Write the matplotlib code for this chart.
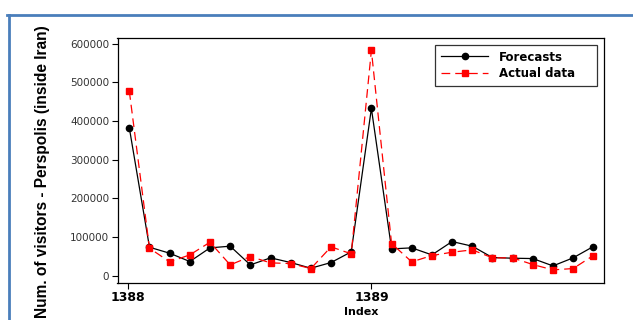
import matplotlib
matplotlib.use('Agg')
from matplotlib import pyplot as plt
from matplotlib.lines import Line2D

# monthly values, two years (1388, 1389)
forecasts = [382600, 73300, 57800, 36300, 71700, 76000, 27600, 45800, 33700, 19000, 33700, 61300,
             432600, 69000, 71700, 53500, 88000, 76000, 46600, 44900, 44000, 25000, 45800, 75100]
actual = [477500, 70800, 35400, 53500, 86300, 27600, 49200, 32800, 31100, 18100, 74300, 56200,
          582900, 82900, 35400, 51800, 60400, 66500, 45800, 45800, 28500, 14700, 18100, 51800]
year_labels = ['1388', '1389']
y_ticks = [0, 100000, 200000, 300000, 400000, 500000, 600000]

idx = list(range(len(forecasts)))

fig = plt.figure(figsize=(6.33, 3.2), dpi=100, facecolor='white')
ax = fig.add_axes([117.5 / 633, 1 - 282.5 / 320, (604 - 117.5) / 633, (282.5 - 38) / 320])

ax.plot(idx, forecasts, color='black', lw=0.9, marker='o', ms=4.5, label='Forecasts')
ax.plot(idx, actual, color='red', lw=0.9, ls=(0, (7, 4)), marker='s', ms=4, label='Actual data')

ax.set_xlim(-0.585, 23.53)
ax.set_ylim(-18000, 615000)

ax.set_yticks(y_ticks)
ax.set_yticklabels([str(v) for v in y_ticks], fontsize=7.5, color='#333333')
ax.set_xticks([-0.05, 12])
ax.set_xticklabels(year_labels, fontsize=9, fontweight='bold')
ax.tick_params(direction='out', length=4, width=0.8, pad=2)
for s in ax.spines.values():
    s.set_linewidth(0.9)

ax.set_xlabel('Index', fontsize=8, fontweight='bold', labelpad=2)
fig.text(43 / 633, 1 - 172 / 320, 'Num. of visitors - Perspolis (inside Iran)',
         rotation=90, ha='center', va='center', fontsize=11.2, fontweight='bold',
         family='Liberation Sans')

leg = ax.legend(loc='upper left', bbox_to_anchor=(0.6526, 0.5, 0.334, 0.4725), mode='expand',
                prop={'weight': 'bold', 'size': 8.5}, frameon=True, fancybox=False,
                edgecolor='black', handlelength=4, handletextpad=0.9,
                borderpad=0.5, labelspacing=0.3, borderaxespad=0)
leg.get_frame().set_linewidth(0.9)

# blue frame around the slide
fig.add_artist(Line2D([8.5 / 633, 8.5 / 633], [0, 1 - 15 / 320], transform=fig.transFigure,
                      color='#4a7ebb', lw=2))
fig.add_artist(Line2D([7.5 / 633, 1], [1 - 15 / 320, 1 - 15 / 320], transform=fig.transFigure,
                      color='#4a7ebb', lw=2))

plt.savefig('out.png', dpi=100, facecolor='white')
